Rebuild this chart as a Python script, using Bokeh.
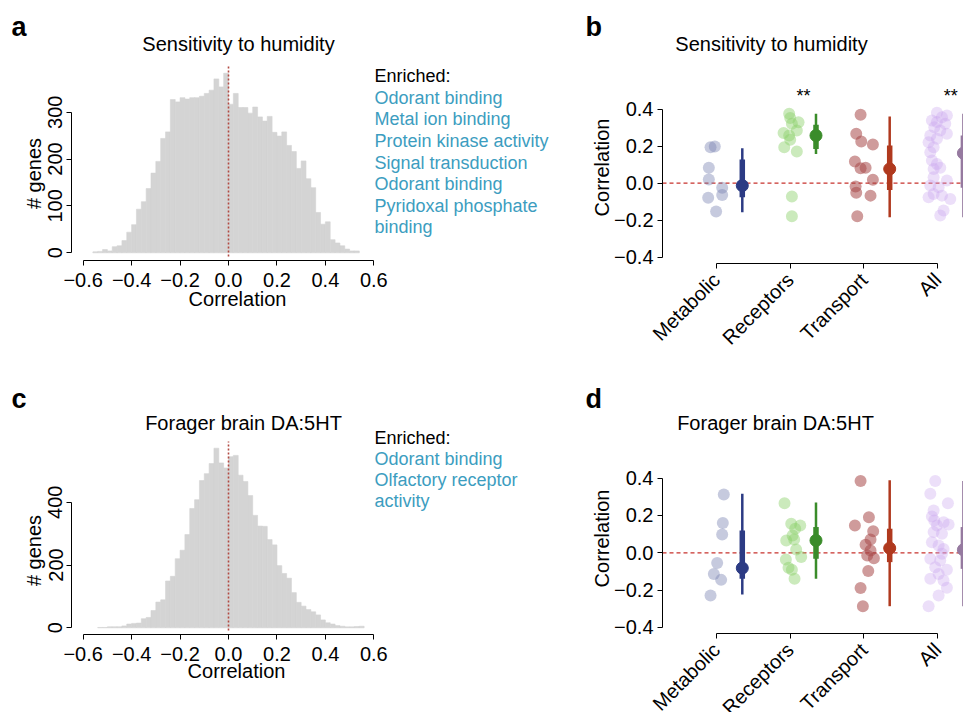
import math
from bokeh.plotting import figure
from bokeh.models import Range1d, FixedTicker, CustomJSTickFormatter, Label
from bokeh.layouts import row, column
from bokeh.embed import file_html
from bokeh.resources import INLINE

FONT = "Liberation Sans"

# ---------------- data ----------------
bin_width = 0.02
# panel a: Sensitivity to humidity histogram (bins of 0.02 starting at -0.56)
hum_start = -0.56
hum_counts = [2, 3, 7, 4, 13, 15, 26, 44, 60, 93, 109, 137, 170, 195, 244, 258, 327, 322,
              331, 328, 331, 331, 334, 340, 347, 371, 354, 383,
              317, 340, 310, 310, 298, 311, 290, 281, 291, 257, 249, 258, 229, 216, 180,
              196, 158, 139, 86, 61, 66, 28, 21, 15, 8, 4, 4]
# panel c: Forager brain DA:5HT histogram (bins of 0.02 starting at -0.54)
da_start = -0.54
da_counts = [1, 1, 3, 3, 3, 6, 12, 14, 15, 29, 33, 55, 82, 89, 149, 164, 220, 247, 297,
             380, 408, 469, 491, 523, 572, 525, 509,
             545, 549, 486, 466, 421, 358, 324, 323, 281, 264, 198, 173, 158, 112, 81, 69,
             58, 51, 41, 25, 16, 12, 7, 5, 3, 3, 4, 5]
hist_xticks = [-0.6, -0.4, -0.2, 0.0, 0.2, 0.4, 0.6]
hum_yticks = [0, 100, 200, 300]
da_yticks = [0, 200, 400]
hum_enriched = ["Odorant binding", "Metal ion binding", "Protein kinase activity",
                "Signal transduction", "Odorant binding", "Pyridoxal phosphate", "binding"]
da_enriched = ["Odorant binding", "Olfactory receptor", "activity"]

categories = ["Metabolic", "Receptors", "Transport", "All"]
corr_yticks = [-0.4, -0.2, 0.0, 0.2, 0.4]

# panel b: gene correlations (values) and horizontal jitter
hum_metab_y = [0.194, 0.198, 0.083, 0.02, -0.025, -0.063, -0.079, -0.153]
hum_metab_dx = [-0.081, -0.023, -0.104, -0.104, 0.077, 0.077, -0.113, -0.005]
hum_recep_y = [0.374, 0.352, 0.329, 0.32, 0.27, 0.284, 0.257, 0.234, 0.194, 0.171, -0.072, -0.178]
hum_recep_dx = [-0.014, 0.0, 0.113, 0.023, -0.09, 0.09, -0.014, 0.0, -0.081, 0.09, 0.023, 0.023]
hum_trans_y = [0.369, 0.266, 0.225, 0.209, 0.117, 0.081, 0.083, 0.018, -0.018, -0.052, -0.067, -0.178]
hum_trans_dx = [-0.045, -0.104, -0.036, 0.122, -0.122, -0.045, 0.023, 0.122, -0.113, -0.104, 0.09, -0.09]
hum_all_y = [0.38, 0.365, 0.338, 0.32, 0.302, 0.284, 0.257, 0.266, 0.239, 0.194, 0.167, 0.122,
             0.104, 0.083, 0.077, 0.032, 0.014, -0.013, -0.022, -0.058, -0.067, -0.085, -0.076,
             -0.147, -0.174, 0.33, 0.356, 0.221]
hum_all_dx = [-0.009, 0.126, -0.077, 0.104, -0.045, 0.036, -0.099, 0.126, -0.009, -0.054, -0.099,
              -0.077, -0.009, 0.036, -0.054, -0.054, 0.126, -0.099, 0.014, -0.054, 0.059, 0.172,
              -0.122, 0.081, 0.036, -0.009, 0.059, -0.122]
hum_median = [-0.013, 0.257, 0.077, 0.162]
hum_q_lo = [-0.076, 0.185, -0.036, -0.025]
hum_q_hi = [0.128, 0.315, 0.203, 0.257]
hum_w_lo = [-0.156, 0.158, -0.183, -0.183]
hum_w_hi = [0.189, 0.374, 0.36, 0.374]
hum_signif = ["", "**", "", "**"]

# panel d
da_metab_y = [0.3125, 0.159, 0.098, -0.055, -0.113, -0.145, -0.229]
da_metab_dx = [0.099, 0.086, 0.077, 0.009, -0.036, 0.063, -0.081]
da_recep_y = [0.266, 0.155, 0.146, 0.129, 0.093, 0.066, 0.071, 0.018, -0.036, -0.023, -0.080, -0.091, -0.139]
da_recep_dx = [-0.077, 0.014, 0.136, 0.068, 0.032, -0.054, 0.054, 0.081, -0.059, 0.149, -0.023, 0.023, 0.059]
da_trans_y = [0.384, 0.191, 0.146, 0.116, 0.071, 0.043, 0.0125, -0.014, -0.029, -0.098, -0.189, -0.286]
da_trans_dx = [-0.045, 0.068, -0.122, 0.126, 0.09, 0.023, 0.09, 0.045, 0.136, 0.059, -0.045, -0.014]
da_all_y = [0.384, 0.316, 0.266, 0.195, 0.164, 0.146, 0.152, 0.111, 0.102, 0.057, 0.039, 0.021,
            -0.032, -0.041, -0.077, -0.091, -0.113, -0.139, -0.148, -0.1875, -0.229, -0.286,
            0.227, -0.005, 0.173]
da_all_dx = [-0.032, -0.099, 0.140, -0.077, 0.081, -0.009, 0.149, -0.054, 0.059, -0.077, 0.014,
             0.081, -0.099, 0.036, -0.032, 0.126, 0.014, -0.099, 0.081, 0.126, 0.014, -0.122,
             -0.054, 0.059, -0.045]
da_median = [-0.082, 0.066, 0.025, 0.016]
da_q_lo = [-0.139, -0.032, -0.05, -0.086]
da_q_hi = [0.12, 0.138, 0.129, 0.138]
da_w_lo = [-0.223, -0.139, -0.286, -0.286]
da_w_hi = [0.316, 0.27, 0.388, 0.384]

# ---------------- styles ----------------
POINT_COLORS = ["#7880B0", "#8BD16A", "#A84848", "#C8A2EE"]
POINT_ALPHA = [0.42, 0.45, 0.55, 0.35]
SUM_COLORS = ["#2C3B84", "#3A8C2A", "#B0391E", "#967AA0"]
SUM_DX = 0.35
HIST_FILL = "#D4D4D4"
ENRICH_COLOR = "#3C9DC0"

minus_fmt = CustomJSTickFormatter(code="""
    var s = Math.abs(tick).toFixed(1);
    return (tick < -1e-9 ? '\\u2212' : '') + s;
""")


def make_fig(origin, size, xmap, ymap, axis_px):
    """Frame fills the whole figure; axes are pinned inside it with fixed_location."""
    ox, oy = origin
    w, h = size
    X = lambda px: (px - xmap[0]) / xmap[1] + xmap[2]
    Y = lambda py: (ymap[0] - py) / ymap[1]
    p = figure(width=w, height=h, x_range=Range1d(X(ox), X(ox + w)),
               y_range=Range1d(Y(oy + h), Y(oy)), title=None,
               output_backend="svg", toolbar_location=None,
               min_border_left=0, min_border_right=0, min_border_top=0, min_border_bottom=0)
    try:
        p.frame_align = False
    except Exception:
        pass
    p.grid.visible = False
    p.outline_line_color = None
    p.background_fill_color = "white"
    p.border_fill_color = "white"
    p.yaxis[0].fixed_location = X(axis_px[0])
    p.xaxis[0].fixed_location = Y(axis_px[1])
    for ax in (p.xaxis[0], p.yaxis[0]):
        ax.axis_line_color = "black"
        ax.axis_line_width = 1
        ax.major_tick_line_color = "black"
        ax.major_tick_out = 5
        ax.major_tick_in = 0
        ax.minor_tick_line_color = None
        ax.major_label_text_font = FONT
        ax.major_label_text_font_size = "20px"
        ax.major_label_text_color = "black"
    return p, X, Y


def label(p, X, Y, px, py, text, size=20, color="black", align="left", style="normal",
          vertical=False):
    """Place a text whose baseline is at page pixel (px, py) (x for vertical text)."""
    shift = 0.35 * size
    if vertical:
        x, y, angle = X(px - shift), Y(py), math.pi / 2
    else:
        x, y, angle = X(px), Y(py - shift), 0.0
    p.add_layout(Label(x=x, y=y, text=text, text_font=FONT, text_font_size=f"{size}px",
                       text_color=color, text_align=align, text_baseline="middle",
                       text_font_style=style, angle=angle))


def hist_panel(origin, size, ymap, axis_px, start, counts, yticks, letter, letter_pos,
               title, title_pos, xlab_pos, ylab_pos, enriched, enrich_top, enrich_step,
               line_top):
    p, X, Y = make_fig(origin, size, (228.0, 242.2, 0.0), ymap, axis_px)
    left = [start + i * bin_width for i in range(len(counts))]
    right = [l + bin_width for l in left]
    p.quad(left=left, right=right, bottom=0, top=counts, fill_color=HIST_FILL,
           line_color=HIST_FILL, line_width=0.6)
    p.segment(x0=[0], y0=[Y(axis_px[1] - 4)], x1=[0], y1=[Y(line_top)], line_color="#B24A42",
              line_dash="2 2", line_width=1.6)
    p.xaxis.ticker = FixedTicker(ticks=hist_xticks)
    p.xaxis.formatter = minus_fmt
    p.xaxis.bounds = (hist_xticks[0], hist_xticks[-1])
    p.xaxis.major_label_standoff = 7
    p.yaxis.ticker = FixedTicker(ticks=yticks)
    p.yaxis.bounds = (yticks[0], yticks[-1])
    p.yaxis.major_label_orientation = "parallel"
    p.yaxis.major_label_standoff = 4
    # axis titles
    label(p, X, Y, xlab_pos[0], xlab_pos[1], "Correlation", align="center")
    label(p, X, Y, ylab_pos[0], ylab_pos[1], "# genes", align="center", vertical=True)
    label(p, X, Y, letter_pos[0], letter_pos[1], letter, size=27, style="bold")
    label(p, X, Y, title_pos[0], title_pos[1], title, align="center")
    label(p, X, Y, 374, enrich_top, "Enriched:", size=18)
    for i, t in enumerate(enriched):
        label(p, X, Y, 374, enrich_top + (i + 1) * enrich_step, t, size=18, color=ENRICH_COLOR)
    return p


def strip_panel(origin, size, ymap, axis_px, groups, med, qlo, qhi, wlo, whi, letter,
                letter_pos, title, title_pos, ylab_pos, signif=None):
    p, X, Y = make_fig(origin, size, (716.0, 73.7, 1.0), ymap, axis_px)
    p.segment(x0=[X(axis_px[0])], y0=[0], x1=[X(origin[0] + size[0])], y1=[0],
              line_color="#C8322C", line_dash="4 3", line_width=1.2)
    for i, (ys, dxs) in enumerate(groups):
        xs = [i + 1 + d for d in dxs]
        p.scatter(xs, ys, size=12, fill_color=POINT_COLORS[i], fill_alpha=POINT_ALPHA[i],
                  line_color=None)
    sx = [i + 1 + SUM_DX for i in range(len(categories))]
    p.segment(x0=sx, y0=wlo, x1=sx, y1=whi, line_color=SUM_COLORS, line_width=2.5)
    p.segment(x0=sx, y0=qlo, x1=sx, y1=qhi, line_color=SUM_COLORS, line_width=5.5)
    p.scatter(sx, med, size=12, fill_color=SUM_COLORS, line_color=SUM_COLORS)
    p.xaxis.ticker = FixedTicker(ticks=[i + 1 for i in range(len(categories))])
    p.xaxis.major_label_overrides = {i + 1: c for i, c in enumerate(categories)}
    p.xaxis.bounds = (1, len(categories))
    p.xaxis.major_label_orientation = math.pi / 4
    p.xaxis.major_label_standoff = 8
    p.yaxis.ticker = FixedTicker(ticks=corr_yticks)
    p.yaxis.formatter = minus_fmt
    p.yaxis.bounds = (corr_yticks[0], corr_yticks[-1])
    p.yaxis.major_label_standoff = 4
    label(p, X, Y, ylab_pos[0], ylab_pos[1], "Correlation", align="center", vertical=True)
    if signif:
        for i, s in enumerate(signif):
            if s:
                # '**' sits just above the category's points
                label(p, X, Y, 716 + (i + 0.18) * 73.7, 102, s, size=18, align="center")
    label(p, X, Y, letter_pos[0], letter_pos[1], letter, size=27, style="bold")
    label(p, X, Y, title_pos[0], title_pos[1], title, align="center")
    return p


pa = hist_panel((0, 0), (575, 370), (252.3, 0.4687), (71, 260),
                hum_start, hum_counts, hum_yticks, "a", (11, 36),
                "Sensitivity to humidity", (238, 50), (237, 305), (40.3, 173),
                hum_enriched, 82, 21.6, 66)
pb = strip_panel((575, 0), (388, 370), (182.7, 185.5), (662, 263),
                 [(hum_metab_y, hum_metab_dx), (hum_recep_y, hum_recep_dx),
                  (hum_trans_y, hum_trans_dx), (hum_all_y, hum_all_dx)],
                 hum_median, hum_q_lo, hum_q_hi, hum_w_lo, hum_w_hi,
                 "b", (585, 36), "Sensitivity to humidity", (771, 50), (608.3, 167), hum_signif)
pc = hist_panel((0, 370), (575, 342), (627.3, 0.314), (71, 634),
                da_start, da_counts, da_yticks, "c", (11, 408),
                "Forager brain DA:5HT", (243, 429), (236, 677), (40.3, 550),
                da_enriched, 443.5, 21.0, 441)
pd_ = strip_panel((575, 370), (388, 342), (552.3, 186.7), (662, 633),
                  [(da_metab_y, da_metab_dx), (da_recep_y, da_recep_dx),
                   (da_trans_y, da_trans_dx), (da_all_y, da_all_dx)],
                  da_median, da_q_lo, da_q_hi, da_w_lo, da_w_hi,
                  "d", (585, 408), "Forager brain DA:5HT", (775, 429), (608.3, 538))

layout = column(row(pa, pb), row(pc, pd_))
open("out.html", "w").write(file_html(layout, INLINE))
